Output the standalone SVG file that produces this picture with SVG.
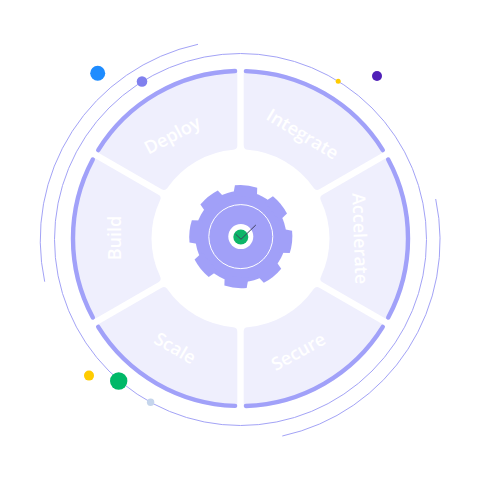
<svg xmlns="http://www.w3.org/2000/svg" xmlns:xlink="http://www.w3.org/1999/xlink" width="481" height="481" viewBox="0 0 481 481">
<style>
.seg{fill:#EFEFFD}
.band{fill:none;stroke:#A1A1F9;stroke-width:4.4;stroke-linecap:round}
.ring{fill:none;stroke:#A3A3F6;stroke-width:1}
.lbl{font-family:"Open Sans","Noto Sans",sans-serif;font-size:18px;font-weight:600;fill:#fff;text-anchor:middle;dominant-baseline:central}
.gear{fill:#A1A0F8}
</style>
<defs>
<g id="segment">
<path class="seg" d="M3.2,-165.5Q3.2,-169.47 7.2,-169.35A169.5,169.5 0 0 1 143.09,-90.92Q145.16,-87.5 141.7,-85.5L78.86,-49.2Q75.4,-47.2 73.28,-50.59A89,89 0 0 0 7.2,-88.65Q3.2,-88.94 3.2,-92.94Z"/>
<path class="band" d="M5.4,-167.4A167.5,167.5 0 0 1 142.3,-88.4"/>
</g>
<path id="tooth" d="M-12,-40L-11.2,-50.4A55,55 0 0 1 11.2,-50.4L12,-40Z"/>
</defs>
<g id="rings">
<circle class="ring" cx="240.5" cy="239.5" r="186"/>
<path class="ring" d="M198,44.3A200,200 0 0 0 44.7,281.7"/>
<path class="ring" d="M435.7,199A200,200 0 0 1 282.3,436"/>
</g>
<g id="integrate"><use xlink:href="#segment" href="#segment" transform="translate(240.5 238.5)"/><text class="lbl" transform="translate(303 133.5) rotate(31)">Integrate</text></g>
<g id="accelerate"><use xlink:href="#segment" href="#segment" transform="translate(240.5 238.5) rotate(60)"/><text class="lbl" transform="translate(360.8 238.5) rotate(88)">Accelerate</text></g>
<g id="secure"><use xlink:href="#segment" href="#segment" transform="translate(240.5 238.5) rotate(120)"/><text class="lbl" transform="translate(298 351) rotate(-29)">Secure</text></g>
<g id="scale"><use xlink:href="#segment" href="#segment" transform="translate(240.5 238.5) rotate(180)"/><text class="lbl" transform="translate(175.5 347.5) rotate(30)">Scale</text></g>
<g id="build"><use xlink:href="#segment" href="#segment" transform="translate(240.5 238.5) rotate(240)"/><text class="lbl" transform="translate(114 238) rotate(-90)">Build</text></g>
<g id="deploy"><use xlink:href="#segment" href="#segment" transform="translate(240.5 238.5) rotate(300)"/><text class="lbl" transform="translate(172 134.5) rotate(-28)">Deploy</text></g>
<g id="gear" transform="translate(240.8 236.6)">
<circle class="gear" r="45.5"/>
<g class="gear">
<use xlink:href="#tooth" href="#tooth" transform="rotate(6)"/>
<use xlink:href="#tooth" href="#tooth" transform="rotate(51)"/>
<use xlink:href="#tooth" href="#tooth" transform="rotate(96)"/>
<use xlink:href="#tooth" href="#tooth" transform="rotate(141)"/>
<use xlink:href="#tooth" href="#tooth" transform="rotate(186)"/>
<use xlink:href="#tooth" href="#tooth" transform="rotate(231)"/>
<use xlink:href="#tooth" href="#tooth" transform="rotate(276)"/>
<use xlink:href="#tooth" href="#tooth" transform="rotate(321)"/>
</g>
<circle r="32" fill="none" stroke="#fff" stroke-width="1"/>
<circle r="12.5" fill="#fff"/>
<circle cy="0.4" r="7.5" fill="#0DB568"/>
<path d="M-5.2,-2.4L0.2,2.7L15,-11.6" fill="none" stroke="#3F3F5F" stroke-width="1"/>
</g>
<g id="dots">
<circle cx="97.7" cy="73.3" r="7.5" fill="#1E8CFF"/>
<circle cx="142" cy="81.5" r="5.3" fill="#8080EE"/>
<circle cx="338.2" cy="81.3" r="2.5" fill="#FFCC00"/>
<circle cx="377" cy="76" r="5" fill="#5020B8"/>
<circle cx="89" cy="375.6" r="5" fill="#FFCC00"/>
<circle cx="118.7" cy="381" r="8.7" fill="#00B868"/>
<circle cx="150.6" cy="402.2" r="3.7" fill="#C5D5EC"/>
</g>
</svg>
